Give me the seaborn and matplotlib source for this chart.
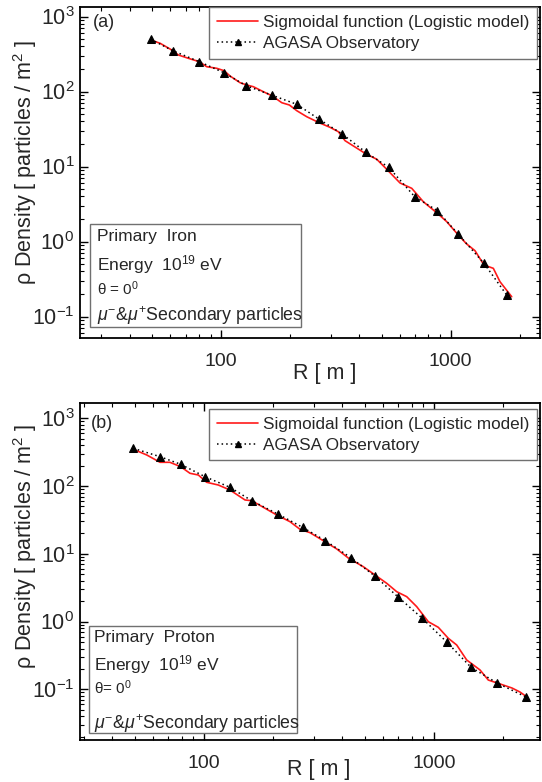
import numpy as np
import pandas as pd
import matplotlib
matplotlib.use("Agg")
import matplotlib.pyplot as plt
import seaborn as sns
from matplotlib.lines import Line2D
from matplotlib.patches import Rectangle
from matplotlib.ticker import LogLocator, NullFormatter

# ---------------- data ----------------
# panel (a): primary iron
a_agasa_r = [49.4, 61.6, 80.4, 103, 128.5, 167, 213.6, 267.6, 337, 427.8, 537, 697, 874, 1079, 1396, 1753]
a_agasa_rho = [497, 350, 249.7, 178, 119.5, 89, 67.5, 42.6, 27.1, 15.4, 9.76, 3.96, 2.58, 1.25, 0.512, 0.1935]
a_fit_r = [49.4, 54.3, 61.0, 65.2, 72.0, 80.4, 86.6, 95.8, 103.1, 109.4, 121.0, 129.4, 138.2, 152.8,
           167.2, 183.8, 198.3, 213.6, 236.1, 267.1, 298.2, 324.1, 346.6, 376.7, 427.8, 476.3, 526.5,
           601.6, 676.5, 759.9, 874.4, 960.7, 1079, 1174, 1276, 1396, 1533, 1639, 1843]
a_fit_rho = [486, 439, 357.5, 306.7, 277.2, 249.7, 214.1, 203.8, 189.4, 160.9, 131.0, 122.1, 115.9, 99.4,
             87.1, 70.9, 66.1, 55.5, 46.1, 38.4, 33.3, 29.1, 22.1, 18.8, 14.7, 12.5, 9.18, 6.03, 5.12,
             3.39, 2.38, 1.84, 1.22, 0.926, 0.754, 0.486, 0.439, 0.291, 0.1837]

# panel (b): primary proton
b_agasa_r = [49.3, 64.4, 79.2, 101, 129.7, 161.2, 209.1, 268.2, 337.2, 434.3, 555, 695.4, 889.4, 1136, 1449, 1879, 2512]
b_agasa_rho = [360.6, 271.2, 209.4, 137.4, 95.8, 60.8, 38.7, 24.6, 15.6, 8.79, 4.66, 2.33, 1.117, 0.499, 0.211, 0.124, 0.077]
b_fit_r = [49.3, 56.4, 64.4, 71.1, 79.2, 86.9, 94.5, 102.7, 115.4, 129.7, 150.8, 161.2, 181.1, 207.1,
           236.5, 261.5, 289, 330.2, 377.6, 424, 492.7, 554, 622.8, 688.4, 760.9, 841, 944.5, 1044,
           1154, 1255, 1387, 1585, 1722, 1936, 2183, 2365, 2537]
b_fit_rho = [348.6, 287.3, 224.1, 224.1, 193.0, 154.3, 145.6, 113.6, 103.6, 87.4, 62.3, 60.8, 48.6, 37.4,
             29.8, 23.0, 20.5, 15.6, 11.8, 8.67, 6.45, 4.87, 3.67, 2.76, 2.33, 1.66, 0.995, 0.822,
             0.566, 0.451, 0.271, 0.193, 0.137, 0.120, 0.1045, 0.0912, 0.0769]

panel_tags = ["(a)", "(b)"]
primaries = ["Primary  Iron", "Primary  Proton"]
theta_text = [r"θ = 0$^{0}$", r"θ= 0$^{0}$"]
legend_labels = ["Sigmoidal function (Logistic model)", "AGASA Observatory"]
x_label = "R [ m ]"
y_label = r"ρ Density [ particles / m$^{2}$ ]"

# ---------------- style ----------------
sns.set_style("ticks")
plt.rcParams['font.family'] = ['Liberation Sans', 'DejaVu Sans']
plt.rcParams['mathtext.fontset'] = 'custom'
plt.rcParams['mathtext.rm'] = 'Liberation Sans'
plt.rcParams['mathtext.it'] = 'Liberation Sans:italic'
plt.rcParams['mathtext.bf'] = 'Liberation Sans:bold'
plt.rcParams['axes.unicode_minus'] = True

fig = plt.figure(figsize=(5.42, 7.82), dpi=100)
W, H = 542, 782
def axes_rect(l, t, r, b):
    return [l / W, 1 - b / H, (r - l) / W, (b - t) / H]

ax_a = fig.add_axes(axes_rect(80, 7, 540, 338))
ax_b = fig.add_axes(axes_rect(80, 403, 540, 740))

panels = [
    (ax_a, a_fit_r, a_fit_rho, a_agasa_r, a_agasa_rho, (24.3, 2448), (0.0517, 1339)),
    (ax_b, b_fit_r, b_fit_rho, b_agasa_r, b_agasa_rho, (28.9, 2890), (0.01785, 1682)),
]

for i, (ax, fr, frho, ar, arho, xl, yl) in enumerate(panels):
    fit = pd.DataFrame({"R": fr, "rho": frho})
    obs = pd.DataFrame({"R": ar, "rho": arho})
    sns.lineplot(data=fit, x="R", y="rho", ax=ax, color="#ff1a1a", lw=1.2,
                 sort=False, estimator=None)
    sns.lineplot(data=obs, x="R", y="rho", ax=ax, color="black", lw=1.1,
                 linestyle=(0, (1, 2)), marker="^", markersize=5.5,
                 markeredgecolor="black", markerfacecolor="black",
                 sort=False, estimator=None)
    ax.set_xscale("log")
    ax.set_yscale("log")
    ax.set_xlim(*xl)
    ax.set_ylim(*yl)

    ax.set_xticks([100, 1000])
    ax.set_xticklabels(["100", "1000"])
    ax.xaxis.set_minor_locator(LogLocator(base=10, subs=np.arange(2, 10)))
    ax.xaxis.set_minor_formatter(NullFormatter())
    ax.yaxis.set_major_locator(LogLocator(base=10, numticks=10))
    ax.yaxis.set_minor_locator(LogLocator(base=10, subs=np.arange(2, 10), numticks=20))
    ax.yaxis.set_minor_formatter(NullFormatter())

    ax.tick_params(which="both", direction="in", top=True, right=True, color="black")
    ax.tick_params(which="major", length=6, width=1.0)
    ax.tick_params(which="minor", length=3, width=0.8)
    ax.tick_params(axis="x", which="major", labelsize=14, pad=11)
    ax.tick_params(axis="y", which="major", labelsize=15.5, pad=4)
    for s in ax.spines.values():
        s.set_linewidth(1.3)
        s.set_color("black")
        s.set_visible(True)

    ax.set_xlabel(x_label, fontsize=15.5, va="center")
    ax.set_ylabel(y_label, fontsize=15.5, va="center")
    ax.xaxis.set_label_coords(0.533 if i == 0 else 0.518, -0.108 if i == 0 else -0.089)
    ax.yaxis.set_label_coords(-0.12, 0.53 if i == 0 else 0.575)

    # legend
    handles = [Line2D([], [], color="#ff1a1a", lw=1.2),
               Line2D([], [], color="black", lw=1.1, linestyle=(0, (1, 2)),
                      marker="^", markersize=4.5)]
    leg = ax.legend(handles, legend_labels, loc="upper right",
                    bbox_to_anchor=(0.994, 0.999 if i == 0 else 0.982),
                    fontsize=12.3, frameon=True, fancybox=False, framealpha=1,
                    edgecolor="#707070", handlelength=2.4, handletextpad=0.3,
                    borderpad=0.45, labelspacing=0.35, borderaxespad=0)
    leg.get_frame().set_linewidth(1.0)

    ax.text(0.028 if i == 0 else 0.024, 0.952 if i == 0 else 0.94, panel_tags[i],
            transform=ax.transAxes, fontsize=13, va="center", ha="left")

    # info box
    if i == 0:
        bx0, bx1, by0, by1 = 0.0217, 0.4798, 0.0341, 0.3444
        tx, ys = 0.0363, [0.308, 0.2205, 0.148, 0.0665]
    else:
        bx0, bx1, by0, by1 = 0.0202, 0.471, 0.0199, 0.338
        tx, ys = 0.0304, [0.3047, 0.2226, 0.1564, 0.0496]
    ax.add_patch(Rectangle((bx0, by0), bx1 - bx0, by1 - by0, transform=ax.transAxes,
                           facecolor="white", edgecolor="#707070", lw=1.0, zorder=5))
    ax.text(tx, ys[0], primaries[i], transform=ax.transAxes, fontsize=12.5, va="center", zorder=6)
    ax.text(tx, ys[1], r"Energy  10$^{19}$ eV", transform=ax.transAxes, fontsize=12.5, va="center", zorder=6)
    ax.text(tx, ys[2], theta_text[i], transform=ax.transAxes, fontsize=11, va="center", zorder=6)
    ax.text(tx, ys[3], r"$\mathit{\mu}^{-}$&$\mathit{\mu}^{+}$Secondary particles",
            transform=ax.transAxes, fontsize=12.8, va="center", zorder=6)

fig.savefig("out.png", dpi=100)
